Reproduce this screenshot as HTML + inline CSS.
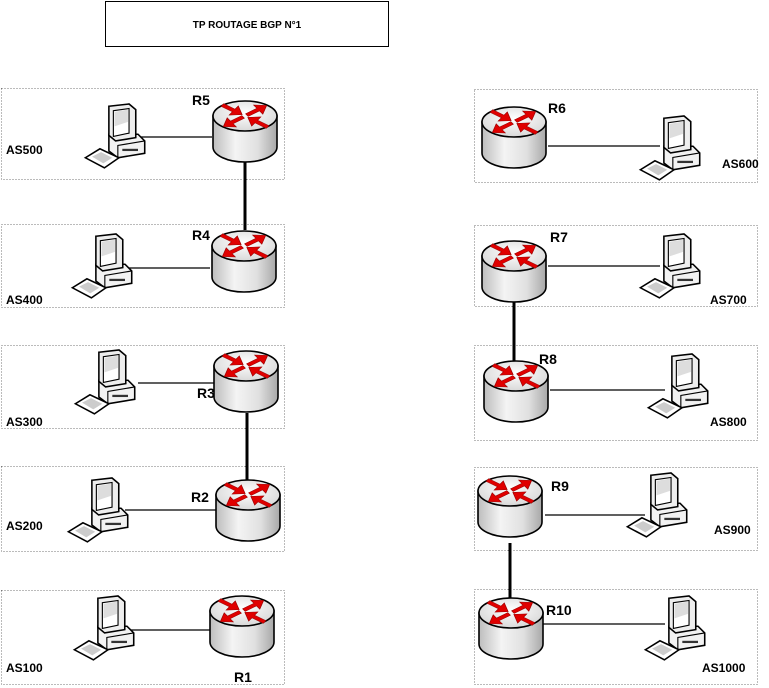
<!DOCTYPE html>
<html><head><meta charset="utf-8"><style>
html,body{margin:0;padding:0;background:#fff;width:769px;height:688px;overflow:hidden}
text{font-family:"Liberation Sans",Arial,sans-serif;font-weight:bold;fill:#000}
</style></head><body>
<svg width="769" height="688" viewBox="0 0 769 688" xmlns="http://www.w3.org/2000/svg">
<defs>
<linearGradient id="body" x1="0" x2="1" y1="0" y2="0">
<stop offset="0" stop-color="#bdbdbd"/><stop offset="0.35" stop-color="#f4f4f4"/><stop offset="0.7" stop-color="#e0e0e0"/><stop offset="1" stop-color="#a8a8a8"/>
</linearGradient>
<radialGradient id="top" cx="0.5" cy="0.4" r="0.6"><stop offset="0" stop-color="#fff"/><stop offset="1" stop-color="#d8d8d8"/></radialGradient>
<g id="arr"><path d="M0,-2 L12,-2 L12,-7 L21,0 L12,7 L12,2 L0,2 Z" fill="#e00000" stroke="#900" stroke-width="0.6"/></g>
<g id="router">
<path d="M1,16 L1,47 A32,15 0 0 0 65,47 L65,16 Z" fill="url(#body)" stroke="#000" stroke-width="1.6"/>
<ellipse cx="33" cy="16" rx="32" ry="15" fill="url(#top)" stroke="#000" stroke-width="1.6"/>
<g transform="translate(33,16) scale(1.15,0.8)">
<use href="#arr" transform="rotate(-35) translate(2,0)"/>
<use href="#arr" transform="rotate(145) translate(2,0)"/>
<use href="#arr" transform="rotate(35) translate(24,0) rotate(180)"/>
<use href="#arr" transform="rotate(215) translate(24,0) rotate(180)"/>
</g>
</g>
<g id="pc" transform="scale(1.12)">
<path d="M24,27 L50,27 L56,33 L56,44 L32,48 L24,42 Z" fill="#f2f2f2" stroke="#000" stroke-width="1.4"/>
<path d="M32,48 L32,37 L56,33" fill="none" stroke="#000" stroke-width="1"/>
<rect x="36" y="40" width="14" height="2" fill="#333"/>
<path d="M24,2 L42,0 L48,5 L48,30 L30,33 L24,28 Z" fill="#eee" stroke="#000" stroke-width="1.4"/>
<path d="M28,6 L42,4 L42,26 L28,29 Z" fill="#fff" stroke="#000" stroke-width="1"/>
<path d="M29,7 L41,5 L41,16 L29,20 Z" fill="#ddd"/>
<path d="M3,48 L16,40 L33,48 L20,57 Z" fill="#fff" stroke="#000" stroke-width="1.4"/>
<path d="M9,47 L17,43 L27,48 L19,53 Z" fill="#ccc"/>
</g>
</defs>

<rect x="105.5" y="1.5" width="283" height="45" fill="#fff" stroke="#000" stroke-width="1"/>
<text x="247" y="28" font-size="10" text-anchor="middle">TP ROUTAGE BGP N°1</text>

<g fill="none" stroke="#777" stroke-width="1" stroke-dasharray="1,2">
<rect x="1.5" y="88.5" width="283" height="91"/>
<rect x="1.5" y="224.5" width="283" height="83"/>
<rect x="1.5" y="345.5" width="283" height="83"/>
<rect x="1.5" y="466.5" width="283" height="85"/>
<rect x="1.5" y="590.5" width="283" height="94"/>
<rect x="474.5" y="89.5" width="283" height="93"/>
<rect x="474.5" y="225.5" width="283" height="81"/>
<rect x="474.5" y="345.5" width="283" height="95"/>
<rect x="474.5" y="467.5" width="283" height="83"/>
<rect x="474.5" y="589.5" width="283" height="95"/>
</g>

<g stroke="#000" stroke-width="1.3">
<line x1="140" y1="137" x2="212" y2="137"/>
<line x1="128" y1="268" x2="210" y2="268"/>
<line x1="138" y1="383" x2="214" y2="383"/>
<line x1="125" y1="510" x2="216" y2="510"/>
<line x1="125" y1="630" x2="210" y2="630"/>
<line x1="548" y1="146" x2="660" y2="146"/>
<line x1="548" y1="266" x2="660" y2="266"/>
<line x1="550" y1="390" x2="665" y2="390"/>
<line x1="545" y1="515" x2="645" y2="515"/>
<line x1="542" y1="624" x2="665" y2="624"/>
</g>
<g stroke="#000" stroke-width="3">
<line x1="245" y1="160" x2="245" y2="230"/>
<line x1="247" y1="413" x2="247" y2="482"/>
<line x1="514" y1="302" x2="514" y2="362"/>
<line x1="510" y1="543" x2="510" y2="600"/>
</g>

<use href="#router" x="212" y="100"/>
<use href="#router" x="211" y="230"/>
<use href="#router" x="213" y="350"/>
<use href="#router" x="215" y="479"/>
<use href="#router" x="209" y="595"/>
<use href="#router" x="481" y="106"/>
<use href="#router" x="481" y="240"/>
<use href="#router" x="483" y="360"/>
<use href="#router" x="477" y="475"/>
<use href="#router" x="478" y="597"/>

<use href="#pc" x="82" y="104"/>
<use href="#pc" x="69" y="234"/>
<use href="#pc" x="72" y="350"/>
<use href="#pc" x="65" y="478"/>
<use href="#pc" x="71" y="596"/>
<use href="#pc" x="637" y="116"/>
<use href="#pc" x="637" y="234"/>
<use href="#pc" x="645" y="354"/>
<use href="#pc" x="624" y="473"/>
<use href="#pc" x="642" y="596"/>

<g font-size="14">
<text x="192" y="105">R5</text>
<text x="192" y="240">R4</text>
<text x="197" y="398">R3</text>
<text x="191" y="502">R2</text>
<text x="234" y="682">R1</text>
<text x="548" y="113">R6</text>
<text x="550" y="242">R7</text>
<text x="539" y="364">R8</text>
<text x="551" y="491">R9</text>
<text x="546" y="615">R10</text>
</g>
<g font-size="12">
<text x="6" y="154">AS500</text>
<text x="6" y="304">AS400</text>
<text x="6" y="426">AS300</text>
<text x="6" y="530">AS200</text>
<text x="6" y="672">AS100</text>
<text x="722" y="168">AS600</text>
<text x="710" y="304">AS700</text>
<text x="710" y="426">AS800</text>
<text x="714" y="534">AS900</text>
<text x="702" y="672">AS1000</text>
</g>
</svg>
</body></html>
